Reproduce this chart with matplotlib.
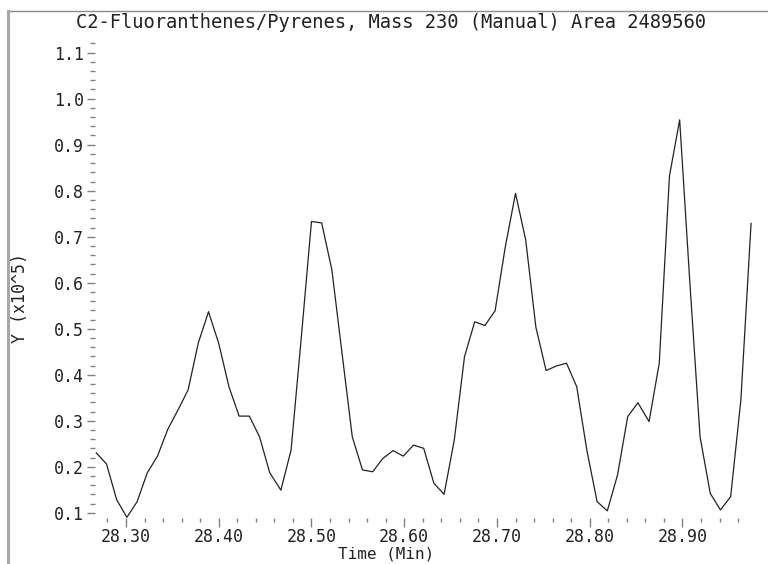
import matplotlib
matplotlib.use("Agg")
import matplotlib.pyplot as plt
from matplotlib.lines import Line2D
from matplotlib.ticker import MultipleLocator, FormatStrFormatter

title = "C2-Fluoranthenes/Pyrenes, Mass 230 (Manual) Area 2489560"
xlabel = "Time (Min)"
ylabel = "Y (x10^5)"

time_min = [
    28.268, 28.279, 28.290, 28.301, 28.312, 28.323, 28.334, 28.345, 28.356, 28.367,
    28.378, 28.389, 28.400, 28.411, 28.422, 28.433, 28.444, 28.455, 28.467, 28.478,
    28.489, 28.500, 28.511, 28.522, 28.533, 28.544, 28.555, 28.566, 28.577, 28.588,
    28.599, 28.610, 28.621, 28.632, 28.643, 28.654, 28.665, 28.676, 28.687, 28.698,
    28.709, 28.720, 28.731, 28.742, 28.753, 28.764, 28.775, 28.786, 28.797, 28.808,
    28.819, 28.830, 28.841, 28.852, 28.864, 28.875, 28.886, 28.897, 28.908, 28.919,
    28.930, 28.941, 28.952, 28.963, 28.974,
]
intensity = [
    0.230, 0.206, 0.128, 0.090, 0.124, 0.187, 0.223, 0.281, 0.323, 0.367,
    0.469, 0.537, 0.468, 0.374, 0.310, 0.310, 0.265, 0.187, 0.149, 0.236,
    0.480, 0.733, 0.730, 0.628, 0.446, 0.265, 0.193, 0.189, 0.218, 0.235,
    0.223, 0.247, 0.240, 0.164, 0.140, 0.258, 0.439, 0.515, 0.507, 0.539,
    0.678, 0.794, 0.693, 0.503, 0.409, 0.419, 0.425, 0.374, 0.235, 0.124,
    0.104, 0.182, 0.309, 0.339, 0.298, 0.425, 0.832, 0.954, 0.600, 0.265,
    0.142, 0.106, 0.135, 0.345, 0.729,
]

FONT = "DejaVu Sans Mono"
FS_TITLE = 13.5
FS = 12
W, H = 768, 564

fig = plt.figure(figsize=(W / 100, H / 100), dpi=100)
fig.patch.set_facecolor("white")

# axes area in pixels
left, right, top, bottom = 95, 752, 40, 518
ax = fig.add_axes([left / W, 1 - bottom / H, (right - left) / W, (bottom - top) / H])
ax.plot(time_min, intensity, color="#222222", lw=0.9)

ax.set_xlim(28.2666, 28.975)
ax.set_ylim(0.0885, 1.1276)
for s in ax.spines.values():
    s.set_visible(False)

ax.xaxis.set_major_locator(MultipleLocator(0.1))
ax.xaxis.set_minor_locator(MultipleLocator(0.02))
ax.yaxis.set_major_locator(MultipleLocator(0.1))
ax.yaxis.set_minor_locator(MultipleLocator(0.02))
ax.xaxis.set_major_formatter(FormatStrFormatter("%.2f"))
ax.yaxis.set_major_formatter(FormatStrFormatter("%.1f"))

ax.tick_params(axis="both", which="both", direction="out", colors="#808080",
               labelcolor="#222222", width=1)
ax.tick_params(axis="x", which="major", length=6.5, pad=1)
ax.tick_params(axis="x", which="minor", length=3)
ax.tick_params(axis="y", which="major", length=6, pad=2)
ax.tick_params(axis="y", which="minor", length=3.5)
for lab in ax.get_xticklabels() + ax.get_yticklabels():
    lab.set_fontfamily(FONT)
    lab.set_fontsize(FS)

fig.text(391.5 / W, 1 - 22 / H, title, ha="center", va="center",
         fontsize=FS_TITLE, family=FONT, color="#222222")
fig.text(386 / W, 1 - 554 / H, xlabel, ha="center", va="center",
         fontsize=11.5, family=FONT, color="#222222")
fig.text(20 / W, 1 - 298 / H, ylabel, ha="center", va="center", rotation=90,
         fontsize=FS, family=FONT, color="#222222")

# frame lines
fig.add_artist(Line2D([8 / W, 1], [1 - 10.5 / H, 1 - 10.5 / H],
                      transform=fig.transFigure, color="#8a8a8a", lw=1))
fig.add_artist(Line2D([8 / W, 8 / W], [0, 1 - 10.5 / H],
                      transform=fig.transFigure, color="#a8a8a8", lw=2.2))

fig.savefig("out.png", dpi=100, facecolor="white")
